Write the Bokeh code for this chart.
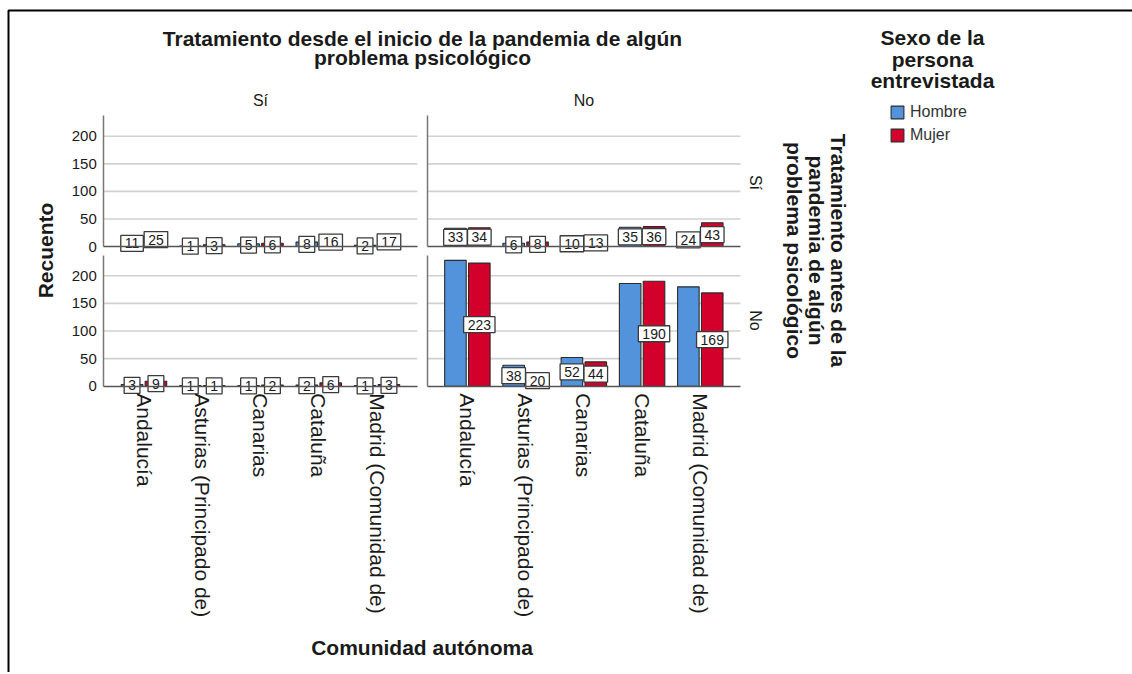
import math
from bokeh.plotting import figure
from bokeh.models import (ColumnDataSource, Range1d, LinearAxis, FixedTicker,
                          Label, BoxAnnotation, Legend, LegendItem)
from bokeh.transform import dodge
from bokeh.core.properties import value
from bokeh.embed import file_html
from bokeh.resources import INLINE

# ---------------- data ----------------
regions = ["Andalucía", "Asturias (Principado de)", "Canarias", "Cataluña",
           "Madrid (Comunidad de)"]
sexes = ["Hombre", "Mujer"]
col_levels = ["Sí", "No"]   # Tratamiento desde el inicio de la pandemia
row_levels = ["Sí", "No"]   # Tratamiento antes de la pandemia
y_ticks = [0, 50, 100, 150, 200]

antes_si_desde_si_hombre = [11, 1, 5, 8, 2]
antes_si_desde_si_mujer = [25, 3, 6, 16, 17]
antes_si_desde_no_hombre = [33, 6, 10, 35, 24]
antes_si_desde_no_mujer = [34, 8, 13, 36, 43]
antes_no_desde_si_hombre = [3, 1, 1, 2, 1]
antes_no_desde_si_mujer = [9, 1, 2, 6, 3]
antes_no_desde_no_hombre = [228, 38, 52, 186, 180]
antes_no_desde_no_mujer = [223, 20, 44, 190, 169]

counts = {
    ("Sí", "Sí", "Hombre"): antes_si_desde_si_hombre,
    ("Sí", "Sí", "Mujer"): antes_si_desde_si_mujer,
    ("Sí", "No", "Hombre"): antes_si_desde_no_hombre,
    ("Sí", "No", "Mujer"): antes_si_desde_no_mujer,
    ("No", "Sí", "Hombre"): antes_no_desde_si_hombre,
    ("No", "Sí", "Mujer"): antes_no_desde_si_mujer,
    ("No", "No", "Hombre"): antes_no_desde_no_hombre,
    ("No", "No", "Mujer"): antes_no_desde_no_mujer,
}
# value labels hidden in the original (overlapping)
hidden_labels = {("No", "No", "Hombre"): [0, 3, 4]}

sex_colors = {"Hombre": "#5393dc", "Mujer": "#d3002c"}

# ---------------- geometry (page pixels) ----------------
W, H = 1132, 672
FONT = "Liberation Sans"
TXT = "#1a1a1a"
IDX_LO, IDX_HI = -0.69, 4.69
Y_TOP = 237
col_px = {"Sí": (103.3, 416.7), "No": (426.7, 740.0)}    # x extents of panels
row_px = {"Sí": (246.0, 0.551), "No": (385.7, 0.552)}    # zero y (from top), px per unit
offsets = {"Hombre": -0.205, "Mujer": 0.205}


def make_xr(a, b):
    s = (b - a) / (IDX_HI - IDX_LO)
    st = IDX_LO - a / s
    return Range1d(st, st + W / s)


def make_yr(y0, k):
    st = -(H - y0) / k
    return Range1d(st, st + H / k)


p = figure(width=W, height=H, x_range=Range1d(0, W), y_range=Range1d(H, 0),
           x_axis_type=None, y_axis_type=None, toolbar_location=None,
           output_backend="svg", min_border=0, outline_line_color=None,
           background_fill_color="white", border_fill_color="white")
p.min_border_left = p.min_border_right = p.min_border_top = p.min_border_bottom = 0
p.xgrid.visible = False
p.ygrid.visible = False

p.extra_x_ranges = {f"xc{i}": make_xr(*col_px[c]) for i, c in enumerate(col_levels)}
p.extra_y_ranges = {f"yr{i}": make_yr(*row_px[r]) for i, r in enumerate(row_levels)}

legend_renderers = {}
for ri, row in enumerate(row_levels):
    for ci, col in enumerate(col_levels):
        kw = dict(x_range_name=f"xc{ci}", y_range_name=f"yr{ri}")
        gsrc = ColumnDataSource(dict(y=y_ticks[1:]))
        p.segment(x0=IDX_LO, x1=IDX_HI, y0="y", y1="y", source=gsrc,
                  line_color="#d0d0d0", line_width=1.6, **kw)
        for sex in sexes:
            vals = counts[(row, col, sex)]
            src = ColumnDataSource(dict(idx=list(range(len(regions))), val=vals))
            r = p.vbar(x=dodge("idx", offsets[sex]), top="val", bottom=0, width=0.37,
                       source=src, fill_color=sex_colors[sex], line_color="#2b2b2b",
                       line_width=1.1, **kw)
            legend_renderers.setdefault(sex, r)

        # axes
        yax = LinearAxis(x_range_name=f"xc{ci}", y_range_name=f"yr{ri}",
                         fixed_location=IDX_LO, bounds=(0, Y_TOP),
                         ticker=FixedTicker(ticks=y_ticks if ci == 0 else []),
                         axis_line_color="#777777", axis_line_width=1.5,
                         major_tick_line_color=None, minor_tick_line_color=None,
                         major_label_standoff=1,
                         major_label_text_font=FONT, major_label_text_font_size="15px",
                         major_label_text_color=TXT)
        p.add_layout(yax, "left")
        xax = LinearAxis(x_range_name=f"xc{ci}", y_range_name=f"yr{ri}",
                         fixed_location=0, bounds=(IDX_LO, IDX_HI),
                         ticker=FixedTicker(ticks=list(range(len(regions))) if ri == 1 else []),
                         major_label_overrides={i: r for i, r in enumerate(regions)},
                         major_label_orientation=-math.pi / 2,
                         axis_line_color="#555555", axis_line_width=1.5,
                         major_tick_line_color=None, minor_tick_line_color=None,
                         major_label_standoff=1,
                         major_label_text_font=FONT, major_label_text_font_size="21px",
                         major_label_text_color=TXT)
        p.add_layout(xax, "below")

        for sex in sexes:
            vals = counts[(row, col, sex)]
            hid = hidden_labels.get((row, col, sex), [])
            keep = [i for i in range(len(vals)) if i not in hid]
            lsrc = ColumnDataSource(dict(idx=keep, half=[vals[i] / 2 for i in keep],
                                         lab=[str(vals[i]) for i in keep]))
            p.text(x=dodge("idx", offsets[sex]), y="half", text="lab", source=lsrc,
                   text_align="center", text_baseline="middle",
                   text_font=value(FONT), text_font_size="14px", text_color=TXT,
                   background_fill_color="white", border_line_color="#3a3a3a",
                   border_line_width=1.3, padding=(4, 3), **kw)


def lab(x, y, text, size, bold=False, angle=0.0, align="center", baseline="middle",
        color=TXT):
    p.add_layout(Label(x=x, y=y, text=text, text_font=FONT, text_font_size=f"{size}px",
                       text_font_style="bold" if bold else "normal", angle=angle,
                       text_align=align, text_baseline=baseline, text_color=color))


# outer frame (left and top edges visible)
p.add_layout(BoxAnnotation(left=8, right=W + 600, top=10, bottom=H + 600,
                           fill_alpha=0, line_color="black", line_alpha=1.0,
                           line_width=2))

# titles
lab(422, 38, "Tratamiento desde el inicio de la pandemia de algún", 21, bold=True)
lab(422, 56.5, "problema psicológico", 21, bold=True)
lab(260, 100, col_levels[0], 16)
lab(583.5, 100, col_levels[1], 16)

lab(45, 250, "Recuento", 21, bold=True, angle=math.pi / 2)
lab(421.5, 647, "Comunidad autónoma", 21, bold=True)

lab(755, 182, row_levels[0], 16, angle=-math.pi / 2)
lab(755, 320, row_levels[1], 16, angle=-math.pi / 2)
lab(838, 250, "Tratamiento antes de la", 21, bold=True, angle=-math.pi / 2)
lab(816, 250, "pandemia de algún", 21, bold=True, angle=-math.pi / 2)
lab(794, 250, "problema psicológico", 21, bold=True, angle=-math.pi / 2)

lab(932, 37, "Sexo de la", 21, bold=True)
lab(932, 58.5, "persona", 21, bold=True)
lab(932, 80, "entrevistada", 21, bold=True)

legend = Legend(items=[LegendItem(label=s, renderers=[legend_renderers[s]]) for s in sexes],
                location=(889, 528), orientation="vertical", padding=0, margin=0,
                spacing=5, glyph_width=16, glyph_height=16, label_height=18,
                label_standoff=5, label_text_font=FONT, label_text_font_size="16px",
                label_text_color="#333333", background_fill_alpha=0,
                border_line_color=None)
p.add_layout(legend, "center")

open("out.html", "w").write(file_html(p, INLINE))
